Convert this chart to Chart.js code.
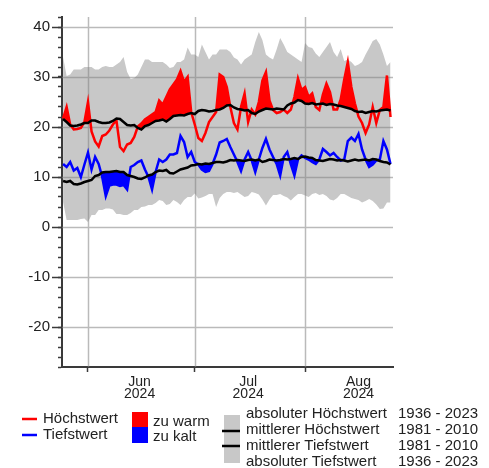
<!DOCTYPE html>
<html>
<head>
<meta charset="utf-8">
<script src="https://cdn.jsdelivr.net/npm/chart.js@4.4.1/dist/chart.umd.min.js"></script>
<style>
body { margin: 0; background: #fff; }
</style>
</head>
<body>
<canvas id="chart" width="489" height="468"></canvas>
<script>
var startDate = '2024-05-25';
var monthNames = ['Jun', 'Jul', 'Aug'];
var yearLabel = '2024';
var yTickLabels = [-20, -10, 0, 10, 20, 30, 40];

// daily values, 25 May - 25 Aug
var dailyMax = [
    21.7, 24.0, 20.5, 19.5, 19.6, 19.8, 21.0, 25.0, 19.1, 17.1,
    16.1, 18.2, 18.5, 19.3, 20.5, 21.3, 16.0, 15.2, 16.5, 16.8,
    18.0, 20.1, 20.7, 21.5, 22.0, 22.5, 23.0, 25.3, 24.5, 26.0,
    27.5, 28.5, 29.5, 31.2, 29.0, 30.0, 23.0, 20.5, 17.8, 17.2,
    18.8, 21.0, 22.0, 23.0, 30.5, 30.0, 28.0, 24.0, 20.8, 19.5,
    24.0, 26.7, 21.0, 23.5, 22.5, 25.0, 29.3, 31.0, 25.3, 23.4,
    22.8, 23.0, 23.5, 22.8, 23.5, 26.0, 29.7, 27.4, 28.0, 26.0,
    26.7, 24.0, 23.4, 26.5, 28.7, 27.0, 23.5, 23.5, 25.5, 29.5,
    33.0, 28.0, 24.7, 22.1, 20.8, 18.8, 20.5, 24.0, 20.8, 23.4,
    24.0, 30.3, 22.0
];
var dailyMin = [
    12.6, 12.0, 13.0, 11.3, 11.8, 10.0, 12.5, 14.9, 11.5, 14.0,
    12.6, 10.0, 6.2, 8.3, 8.5, 8.5, 8.2, 8.4, 7.5, 12.0,
    12.4, 13.0, 13.3, 11.5, 10.0, 7.5, 11.0, 13.5, 13.0, 13.5,
    14.5, 14.5, 14.8, 18.2, 17.0, 14.0, 15.0, 13.0, 12.5, 11.5,
    11.0, 11.2, 12.6, 14.5, 16.9, 17.2, 17.6, 16.0, 14.5, 13.0,
    11.2, 13.5, 15.0, 13.3, 11.0, 13.5, 15.8, 17.6, 15.5, 14.0,
    12.6, 10.3, 14.0, 15.0, 12.5, 10.3, 13.5, 14.3, 13.8, 13.5,
    13.0, 12.6, 13.5, 15.6, 15.0, 14.3, 14.8, 14.0, 13.3, 13.5,
    17.2, 17.9, 17.2, 18.6, 15.5, 13.5, 12.0, 12.5, 13.3, 13.5,
    17.2, 15.5, 12.6
];
// mittlere Werte 1981 - 2010
var meanMax = [
    21.6, 21.0, 20.3, 20.2, 20.3, 20.5, 20.8, 20.8, 21.3, 21.3,
    21.0, 20.8, 20.8, 20.9, 21.2, 21.7, 21.6, 21.0, 20.4, 20.3,
    20.4, 19.8, 19.5, 20.2, 20.4, 20.8, 21.2, 21.3, 21.5, 21.1,
    21.6, 22.2, 22.3, 22.4, 22.3, 22.6, 22.8, 22.6, 23.2, 23.4,
    23.3, 23.1, 23.2, 23.4, 23.5, 23.8, 24.3, 24.4, 23.9, 23.6,
    23.5, 23.3, 23.4, 22.8, 22.6, 23.1, 23.4, 23.7, 23.6, 23.5,
    23.7, 23.6, 23.5, 24.3, 24.7, 24.9, 25.4, 25.2, 24.7, 24.6,
    24.8, 24.5, 24.6, 24.7, 24.4, 24.6, 24.5, 24.3, 24.2, 24.0,
    23.8, 23.6, 23.2, 23.0, 23.1, 22.8, 23.0, 23.2, 23.1, 23.3,
    23.4, 23.5, 23.3
];
var meanMin = [
    9.2, 9.0, 9.2, 8.6, 8.5, 8.7, 9.0, 9.2, 9.4, 10.2,
    10.4, 10.9, 11.0, 11.0, 11.1, 11.2, 11.0, 11.0, 10.4, 10.2,
    10.0, 9.7, 9.6, 9.9, 10.3, 10.5, 11.0, 11.3, 11.2, 11.4,
    10.8, 10.7, 11.1, 11.5, 11.7, 11.9, 12.3, 12.4, 12.6, 12.5,
    12.7, 12.6, 12.8, 13.0, 13.0, 12.9, 13.1, 13.4, 13.3, 13.4,
    13.3, 13.2, 13.4, 13.5, 13.3, 13.5, 13.0, 13.2, 13.5, 13.4,
    13.3, 13.4, 13.6, 13.5, 13.6, 13.8, 13.6, 14.0, 14.1, 13.9,
    13.8, 13.4, 13.3, 13.2, 13.4, 13.6, 13.5, 13.3, 13.4, 13.3,
    13.1, 13.3, 13.5, 13.3, 13.4, 13.5, 13.3, 13.6, 13.5, 13.2,
    13.0, 12.9, 12.5
];
// absolute Werte 1936 - 2023
var absMax = [
    34.0, 30.2, 30.5, 31.5, 31.5, 31.5, 32.0, 32.0, 32.0, 31.5,
    31.5, 32.0, 32.2, 32.0, 32.0, 32.5, 33.0, 34.0, 31.0, 29.6,
    29.8, 30.5, 32.0, 33.5, 33.5, 33.0, 33.0, 33.0, 33.0, 32.5,
    31.8, 32.0, 33.0, 33.0, 33.5, 35.9, 34.5, 34.5, 34.0, 36.5,
    35.0, 33.5, 34.5, 34.5, 35.5, 35.5, 35.5, 35.0, 33.9, 33.5,
    32.5, 33.5, 34.0, 34.5, 37.0, 39.0, 37.4, 34.5, 33.9, 33.5,
    35.5, 37.8, 36.5, 35.0, 34.5, 34.0, 33.5, 33.0, 36.8, 36.0,
    35.8, 34.7, 34.0, 35.0, 36.0, 37.0, 35.0, 34.0, 35.6, 33.2,
    33.5, 33.0, 32.2, 32.5, 33.0, 34.5, 35.8, 37.2, 37.6, 36.5,
    34.5, 32.2, 33.0
];
var absMin = [
    5.0, 1.4, 1.4, 1.4, 1.4, 1.6, 1.7, 1.0, 2.4, 2.4,
    3.4, 3.4, 3.7, 3.7, 3.5, 2.6, 2.6, 2.4, 2.4, 2.8,
    3.4, 3.4, 4.0, 4.1, 4.4, 4.4, 4.8, 5.4, 5.2, 4.4,
    4.6, 5.4, 5.0, 4.4, 5.4, 6.0, 6.0, 6.7, 5.7, 5.9,
    6.2, 6.6, 6.6, 4.0, 5.8, 6.6, 7.0, 7.0, 6.8, 7.0,
    6.5, 6.0, 6.2, 7.0, 6.8, 6.5, 5.5, 4.3, 5.5, 6.4,
    6.4, 6.6, 6.2, 5.9, 5.3, 6.0, 6.6, 6.6, 6.3, 6.0,
    6.6, 6.8, 6.4, 6.6, 6.2, 5.5, 5.3, 5.8, 6.6, 6.6,
    6.2, 5.8, 5.6, 5.4, 4.9, 5.2, 5.6, 5.2, 4.5, 3.6,
    3.7, 4.9, 4.9
];

var legendLines = ['Höchstwert', 'Tiefstwert'];
var legendFills = ['zu warm', 'zu kalt'];
var legendRefs = ['absoluter Höchstwert', 'mittlerer Höchstwert', 'mittlerer Tiefstwert', 'absoluter Tiefstwert'];
var legendPeriods = ['1936 - 2023', '1981 - 2010', '1981 - 2010', '1936 - 2023'];

var red = 'rgb(255, 0, 0)';
var blue = 'rgb(0, 0, 255)';
var band = 'rgb(200, 200, 200)';
var axisColor = '#3a3a3a';
var textColor = '#222';
var fontFamily = "'Liberation Sans', Arial, sans-serif";

function dayDate(i) {
    var d = new Date(startDate + 'T00:00:00Z');
    d.setUTCDate(d.getUTCDate() + i);
    return d;
}

var monthStarts = [];
for (var i = 0; i < dailyMax.length; i++) {
    if (dayDate(i).getUTCDate() == 1) monthStarts.push(i);
}
var monthMids = monthStarts.map(function(s) {
    var d = dayDate(s);
    var len = new Date(Date.UTC(d.getUTCFullYear(), d.getUTCMonth() + 1, 0)).getUTCDate();
    return s + (len - 1) / 2;
});

function points(arr) {
    return arr.map(function(v, i) { return {x: i, y: v}; });
}

function lineSet(label, arr, color, order, fill) {
    return {
        label: label,
        data: points(arr),
        borderColor: color,
        borderWidth: 2.5,
        pointRadius: 0,
        tension: 0,
        fill: fill || false,
        order: order
    };
}

var datasets = [
    lineSet('Höchstwert', dailyMax, red, 4, {target: 1, above: red, below: 'rgba(0,0,0,0)'}),
    lineSet('mittlerer Höchstwert', meanMax, '#000', 2),
    lineSet('Tiefstwert', dailyMin, blue, 5, {target: 3, above: 'rgba(0,0,0,0)', below: blue}),
    lineSet('mittlerer Tiefstwert', meanMin, '#000', 3),
    lineSet('absoluter Höchstwert', absMax, band, 7),
    lineSet('absoluter Tiefstwert', absMin, band, 6, {target: 4, above: band, below: band})
];
datasets[4].borderWidth = 0;
datasets[5].borderWidth = 0;

// grid lines drawn right after the grey band so they show on top of it
var gridOverBand = {
    id: 'gridOverBand',
    afterDatasetDraw: function(chart, args) {
        if (args.index != 5) return;
        var ctx = chart.ctx, area = chart.chartArea;
        var xs = chart.scales.x, ys = chart.scales.y;
        ctx.save();
        ctx.strokeStyle = 'rgba(130, 130, 130, 0.55)';
        ctx.lineWidth = 1.5;
        ctx.beginPath();
        yTickLabels.forEach(function(v) {
            var py = Math.round(ys.getPixelForValue(v)) + 0.5;
            ctx.moveTo(area.left, py);
            ctx.lineTo(area.right, py);
        });
        monthStarts.forEach(function(d) {
            var px = Math.round(xs.getPixelForValue(d)) + 0.5;
            ctx.moveTo(px, area.top);
            ctx.lineTo(px, area.bottom);
        });
        ctx.stroke();
        ctx.restore();
    },
    afterDraw: function(chart) {
        var ctx = chart.ctx, area = chart.chartArea, ys = chart.scales.y;
        ctx.save();
        ctx.strokeStyle = axisColor;
        ctx.lineWidth = 1.5;
        ctx.beginPath();
        yTickLabels.forEach(function(v) {
            var py = Math.round(ys.getPixelForValue(v)) + 0.5;
            ctx.moveTo(area.left - 10, py);
            ctx.lineTo(area.left, py);
        });
        ctx.stroke();
        ctx.restore();
    }
};

var legendBox = {
    id: 'legendBox',
    afterDraw: function(chart) {
        var ctx = chart.ctx;
        ctx.save();
        ctx.font = '15px ' + fontFamily;
        ctx.fillStyle = textColor;
        ctx.textBaseline = 'middle';
        ctx.textAlign = 'left';

        // daily lines
        [red, blue].forEach(function(c, k) {
            var y = 419 + k * 16;
            ctx.strokeStyle = c;
            ctx.lineWidth = 2.5;
            ctx.beginPath();
            ctx.moveTo(22, y);
            ctx.lineTo(37, y);
            ctx.stroke();
            ctx.fillText(legendLines[k], 43, y);
        });

        // deviation fills
        ctx.fillStyle = red;
        ctx.fillRect(132, 412, 16, 15);
        ctx.fillStyle = blue;
        ctx.fillRect(132, 427, 16, 16);
        ctx.fillStyle = textColor;
        ctx.fillText(legendFills[0], 153, 422);
        ctx.fillText(legendFills[1], 153, 437);

        // reference values
        ctx.fillStyle = band;
        ctx.fillRect(224, 415, 16, 48);
        ctx.strokeStyle = '#000';
        ctx.lineWidth = 2.5;
        ctx.beginPath();
        ctx.moveTo(222, 431); ctx.lineTo(240, 431);
        ctx.moveTo(222, 446); ctx.lineTo(240, 446);
        ctx.stroke();
        ctx.fillStyle = textColor;
        legendRefs.forEach(function(t, k) {
            var y = 414 + k * 16;
            ctx.fillText(t, 246, y);
            ctx.fillText(legendPeriods[k], 398, y);
        });
        ctx.restore();
    }
};

new Chart(document.getElementById('chart'), {
    type: 'line',
    data: { datasets: datasets },
    options: {
        responsive: false,
        animation: false,
        events: [],
        layout: { padding: { left: 0, right: 96, top: 12, bottom: 0 } },
        plugins: {
            legend: { display: false },
            tooltip: { enabled: false }
        },
        scales: {
            x: {
                type: 'linear',
                min: -0.3,
                max: 92.7,
                position: 'bottom',
                afterBuildTicks: function(s) {
                    s.ticks = monthStarts.map(function(v) { return {value: v}; });
                },
                afterFit: function(s) { s.height = 6; },
                border: { display: true, color: axisColor, width: 2 },
                grid: { drawOnChartArea: false, drawTicks: true, tickLength: 5, tickColor: axisColor, tickWidth: 1.5 },
                ticks: { display: false }
            },
            x2: {
                type: 'linear',
                min: -0.3,
                max: 92.7,
                position: 'bottom',
                afterBuildTicks: function(s) {
                    s.ticks = monthMids.map(function(v) { return {value: v}; });
                },
                afterFit: function(s) { s.height = 95; },
                border: { display: false },
                grid: { display: false },
                ticks: {
                    autoSkip: false,
                    maxRotation: 0,
                    padding: -5,
                    color: textColor,
                    font: { family: fontFamily, size: 14, lineHeight: 0.85 },
                    callback: function(v, i) { return [monthNames[i], yearLabel]; }
                }
            },
            y: {
                min: -28,
                max: 42,
                afterFit: function(s) { s.width = 62; },
                border: { display: true, color: axisColor, width: 2 },
                grid: { drawOnChartArea: false, drawTicks: true, tickLength: 4, tickColor: axisColor, tickWidth: 1.5 },
                ticks: {
                    stepSize: 2,
                    autoSkip: false,
                    padding: 8,
                    color: textColor,
                    font: { family: fontFamily, size: 15 },
                    callback: function(v) { return yTickLabels.indexOf(v) >= 0 ? String(v) : ''; }
                }
            }
        }
    },
    plugins: [gridOverBand, legendBox]
});
</script>
</body>
</html>
